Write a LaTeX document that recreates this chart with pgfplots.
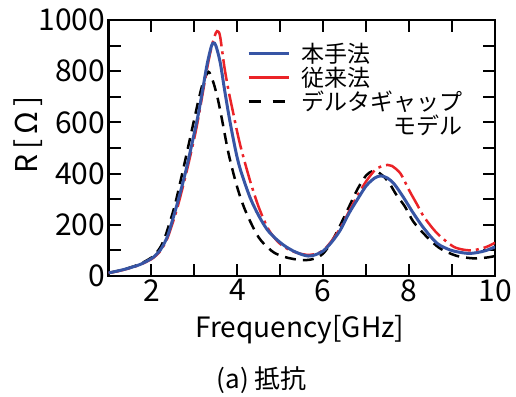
\documentclass[border=0pt]{standalone}
\usepackage{pgfplots}
\pgfplotsset{compat=1.18}
\usepackage{fontspec}
\setmainfont{Noto Sans CJK JP}
\definecolor{myblue}{RGB}{55,85,165}
\definecolor{myred}{RGB}{235,35,40}
\begin{document}
\begin{tikzpicture}
\useasboundingbox (-108.5pt,-120pt) rectangle (407.5pt,276pt);
\begin{axis}[
 scale only axis, width=386.5pt, height=256pt,
 at={(0pt,0pt)}, anchor=south west,
 xmin=1, xmax=10, ymin=0, ymax=1000,
 xtick={2,4,6,8,10}, xticklabels={2,4,6,8,10},
 minor xtick={1,3,5,7,9},
 ytick={0,200,400,600,800,1000},
 yticklabels={\raisebox{-10pt}{0},200,400,600,800,1000},
 minor ytick={100,300,500,700,900},
 tick align=inside,
 major tick length=12pt, minor tick length=12pt,
 tick style={black, line width=2pt},
 axis line style={line width=2.5pt},
 ticklabel style={font=\fontsize{30}{30}\selectfont},
 /pgf/number format/assume math mode=true,
 xlabel={Frequency[GHz]},
 xlabel style={font=\fontsize{28}{28}\selectfont, at={(axis description cs:0.4955,-0.211)}, anchor=center},
 ylabel={R\,[\,Ω\,]},
 ylabel style={font=\fontsize{30}{30}\selectfont, at={(axis description cs:-0.208,0.551)}, anchor=center, rotate=0},
 legend style={draw=none, fill=none, at={(axis description cs:0.358,0.915)}, anchor=north west,
   font=\fontsize{23}{25}\selectfont, row sep=0pt, column sep=10pt, inner sep=0pt, nodes={inner sep=1.5pt}},
 legend cell align=left,
 legend image code/.code={\draw[#1] (0pt,0pt) -- (40pt,0pt);},
]
% black dashed: delta-gap model
\addplot[black, line width=2.5pt, dash pattern=on 11pt off 7pt, smooth, forget plot] table {
x y
1.0 12
1.25 21
1.5 33
1.75 48
2.0 72
2.1 88
2.2 110
2.3 145
2.4 195
2.55 280
2.75 425
3.0 615
3.1 690
3.2 755
3.3 792
3.35 795
3.45 752
3.55 688
3.65 605
3.8 475
4.0 345
4.2 250
4.5 150
4.8 98
5.0 80
5.2 70
5.4 64
5.6 62
5.8 68
6.0 88
6.2 135
6.4 200
6.6 270
6.8 340
7.0 393
7.15 410
7.25 408
7.4 390
7.55 360
7.7 318
7.9 272
8.1 212
8.4 155
8.7 110
9.0 85
9.2 75
9.5 69
9.8 72
10.0 78
};
% red dash-dot: conventional
\addplot[myred, line width=2.5pt, dash pattern=on 22pt off 5pt on 3pt off 5pt, smooth, forget plot] table {
x y
1.0 12
1.25 20
1.5 31
1.75 45
2.0 66
2.1 79
2.2 96
2.3 123
2.4 160
2.6 265
2.8 395
3.0 540
3.1 625
3.2 720
3.3 815
3.4 895
3.5 950
3.55 955
3.6 935
3.7 815
3.8 720
3.9 640
4.0 560
4.1 490
4.3 370
4.5 268
4.7 190
4.85 152
5.0 125
5.2 103
5.4 90
5.6 83
5.8 85
6.0 100
6.2 138
6.4 188
6.6 252
6.8 315
7.0 370
7.2 413
7.35 428
7.5 434
7.6 430
7.8 400
8.0 335
8.2 275
8.35 230
8.65 167
9.0 118
9.2 105
9.45 100
9.7 108
9.85 117
10.0 130
};
% blue solid: proposed
\addplot[myblue, line width=3pt, smooth, forget plot] table {
x y
1.0 12
1.25 21
1.5 32
1.75 46
2.0 68
2.1 82
2.2 100
2.3 128
2.4 168
2.6 282
2.8 410
3.0 560
3.1 640
3.2 735
3.3 830
3.4 900
3.45 910
3.5 900
3.6 835
3.7 730
3.8 630
3.9 540
4.0 460
4.1 400
4.3 305
4.5 235
4.7 180
4.9 145
5.1 118
5.3 98
5.5 84
5.65 78
5.8 82
6.0 98
6.2 133
6.4 180
6.6 245
6.8 300
7.0 352
7.2 383
7.35 391
7.5 382
7.65 360
7.85 312
8.1 245
8.35 185
8.65 128
8.95 102
9.2 92
9.4 88
9.6 92
9.8 100
10.0 114
};
\addlegendimage{myblue, line width=3pt}
\addlegendentry{本手法}
\addlegendimage{myred, line width=2.5pt}
\addlegendentry{従来法}
\addlegendimage{black, line width=2.5pt, dash pattern=on 12pt off 12pt}
\addlegendentry{デルタギャップ}
\addlegendimage{empty legend}
\addlegendentry{\makebox[7em][r]{モデル}}
\end{axis}
\node[font=\fontsize{26}{26}\selectfont] at (153.5pt,-104pt) {(a) 抵抗};
\end{tikzpicture}
\end{document}
